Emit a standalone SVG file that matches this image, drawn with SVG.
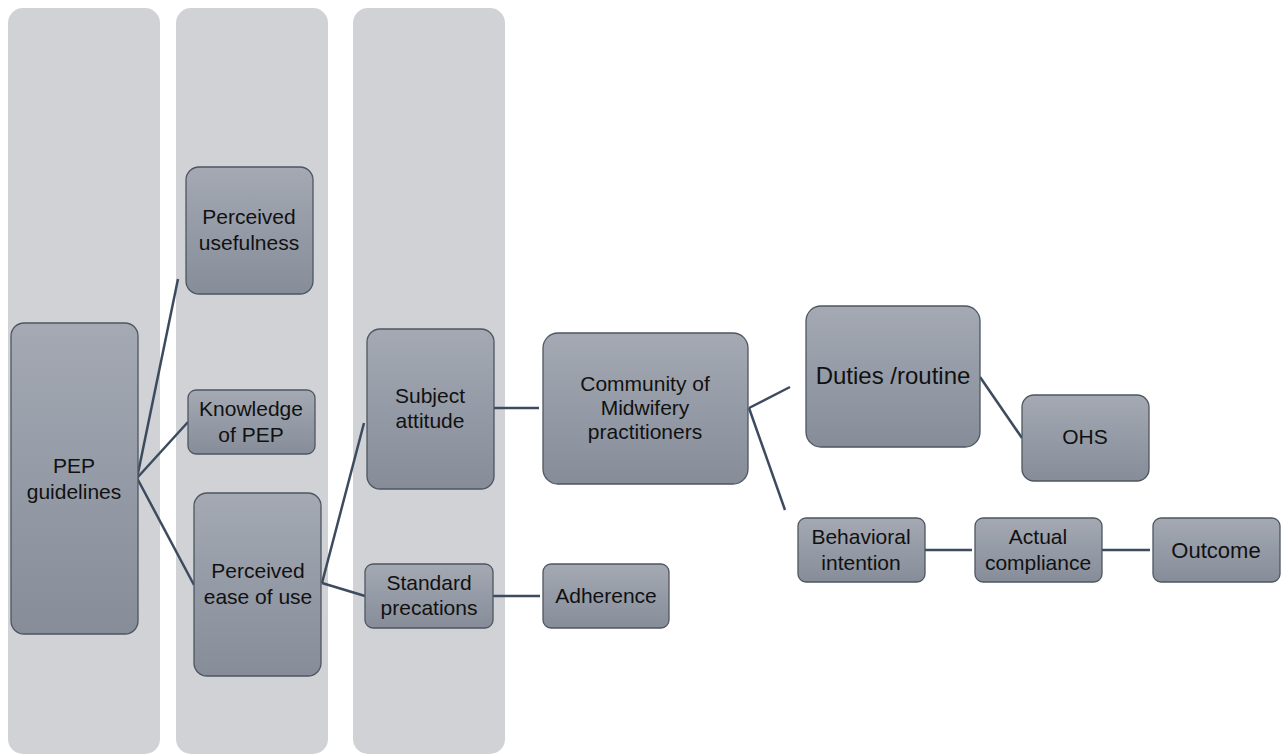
<svg xmlns="http://www.w3.org/2000/svg" width="1282" height="754" viewBox="0 0 1282 754">
<defs>
<linearGradient id="g" x1="0" y1="0" x2="0" y2="1">
<stop offset="0" stop-color="#A4A9B3"/>
<stop offset="1" stop-color="#868D99"/>
</linearGradient>
<style>
.col{fill:#D0D2D6;}
.node{fill:url(#g);stroke:#4E5660;stroke-width:1.3;}
.t{font-family:"Liberation Sans",Arial,sans-serif;font-size:21px;fill:#111;text-anchor:middle;}
.c{fill:none;stroke:#3D4B5F;stroke-width:2.5;}
</style>
</defs>
<g id="columns">
<rect class="col" x="8" y="8" width="152" height="746" rx="15"/>
<rect class="col" x="176" y="8" width="152" height="746" rx="15"/>
<rect class="col" x="353" y="8" width="152" height="746" rx="15"/>
</g>
<g id="connectors">
<line class="c" x1="137" y1="478" x2="178" y2="279"/>
<line class="c" x1="137" y1="478" x2="188" y2="422"/>
<line class="c" x1="137" y1="478" x2="194" y2="585"/>
<line class="c" x1="322" y1="583" x2="364" y2="423"/>
<line class="c" x1="322" y1="583" x2="365" y2="596"/>
<line class="c" x1="494" y1="408" x2="539" y2="408"/>
<line class="c" x1="493" y1="596" x2="540" y2="596"/>
<line class="c" x1="749" y1="408" x2="790" y2="387"/>
<line class="c" x1="749" y1="408" x2="785" y2="510"/>
<line class="c" x1="980" y1="377" x2="1022" y2="438"/>
<line class="c" x1="925" y1="550" x2="972" y2="550"/>
<line class="c" x1="1102" y1="550" x2="1150" y2="550"/>
</g>
<g id="n-pep"><rect class="node" x="11" y="323" width="127" height="311" rx="13"/><text class="t" x="74" y="473">PEP</text><text class="t" x="74" y="499">guidelines</text></g>
<g id="n-useful"><rect class="node" x="186" y="167" width="127" height="127" rx="13"/><text class="t" x="249" y="224">Perceived</text><text class="t" x="249" y="250">usefulness</text></g>
<g id="n-know"><rect class="node" x="188" y="390" width="127" height="64" rx="8"/><text class="t" x="251" y="416">Knowledge</text><text class="t" x="251" y="442">of PEP</text></g>
<g id="n-ease"><rect class="node" x="194" y="493" width="127" height="183" rx="13"/><text class="t" x="258" y="578">Perceived</text><text class="t" x="258" y="604">ease of use</text></g>
<g id="n-subject"><rect class="node" x="367" y="329" width="127" height="160" rx="13"/><text class="t" x="430" y="403">Subject</text><text class="t" x="430" y="428">attitude</text></g>
<g id="n-standard"><rect class="node" x="365" y="564" width="128" height="64" rx="8"/><text class="t" x="429" y="590">Standard</text><text class="t" x="429" y="615">precations</text></g>
<g id="n-adherence"><rect class="node" x="543" y="564" width="126" height="64" rx="8"/><text class="t" x="606" y="603">Adherence</text></g>
<g id="n-community"><rect class="node" x="543" y="333" width="205" height="151" rx="15"/><text class="t" x="645" y="391">Community of</text><text class="t" x="645" y="415">Midwifery</text><text class="t" x="645" y="439">practitioners</text></g>
<g id="n-duties"><rect class="node" x="806" y="306" width="174" height="141" rx="15"/><text class="t" x="893" y="384" style="font-size:24px">Duties /routine</text></g>
<g id="n-ohs"><rect class="node" x="1022" y="395" width="127" height="86" rx="12"/><text class="t" x="1085" y="444">OHS</text></g>
<g id="n-behav"><rect class="node" x="798" y="518" width="127" height="64" rx="8"/><text class="t" x="861" y="544">Behavioral</text><text class="t" x="861" y="570">intention</text></g>
<g id="n-actual"><rect class="node" x="975" y="518" width="127" height="64" rx="8"/><text class="t" x="1038" y="544">Actual</text><text class="t" x="1038" y="570">compliance</text></g>
<g id="n-outcome"><rect class="node" x="1153" y="518" width="127" height="64" rx="8"/><text class="t" x="1216" y="558" style="font-size:22px">Outcome</text></g>
</svg>
